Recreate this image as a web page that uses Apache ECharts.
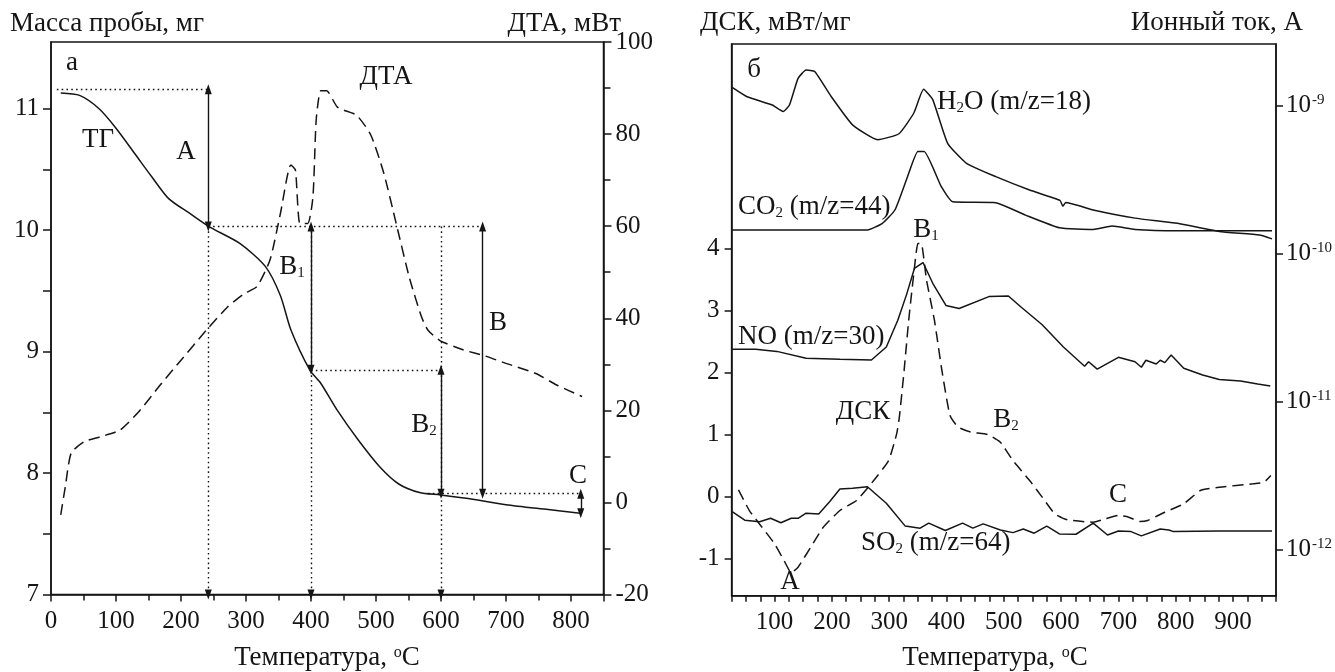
<!DOCTYPE html>
<html>
<head>
<meta charset="utf-8">
<script src="https://cdn.jsdelivr.net/npm/echarts@6/dist/echarts.min.js"></script>
<style>
html,body{margin:0;padding:0;background:#fff;}
#chart{width:1335px;height:672px;}
</style>
</head>
<body>
<div id="chart"></div>
<script>
// ---------- Panel а : TG / DTA ----------
const tgTemp = [15, 44, 74, 100, 129, 155, 181, 213, 243, 291, 330, 353, 369, 398, 415, 440, 473, 506, 535, 567, 599, 642, 700, 765, 814];
const tgMass = [11.13, 11.11, 11.0, 10.84, 10.63, 10.44, 10.26, 10.14, 10.03, 9.89, 9.70, 9.46, 9.18, 8.85, 8.74, 8.52, 8.27, 8.05, 7.91, 7.84, 7.82, 7.79, 7.74, 7.70, 7.67];

const dtaTemp = [15, 22, 31, 51, 77, 106, 135, 168, 200, 239, 272, 298, 317, 337, 353, 369, 376, 383, 395, 403, 408, 415, 424, 441, 470, 492, 512, 531, 551, 570, 580, 599, 635, 668, 700, 746, 778, 817];
const dtaValue = [-2.7, 3.4, 10.7, 13.2, 14.3, 15.7, 19.7, 25.5, 30.9, 37.4, 42.5, 45.4, 46.9, 52.7, 62.8, 73.3, 72.2, 60.6, 60.6, 66.4, 83.1, 89.4, 89.4, 85.8, 84.1, 79.8, 71.5, 60.6, 49.0, 40.3, 37.4, 35.1, 33.1, 31.8, 30.2, 28.0, 25.5, 23.0];

// mass levels used by the annotation arrows (mg) and their temperatures (°C)
const levelStart = 11.16, levelA = 10.03, levelB1 = 8.85, levelB = 7.83, levelEnd = 7.67;
const tempA = 242, tempB1 = 400, tempB2 = 600, tempB = 664, tempC = 815;

const massTicks = [7, 8, 9, 10, 11];
const massTickMarks = [7, 7.5, 8, 8.5, 9, 9.5, 10, 10.5, 11];
const dtaTicks = [-20, 0, 20, 40, 60, 80, 100];
const tempTicksA = [0, 100, 200, 300, 400, 500, 600, 700, 800];

// ---------- Panel б : DSC / ion currents (log10 of current, A) ----------
const h2oTemp = [26, 52, 96, 115, 126, 141, 155, 170, 199, 236, 280, 317, 343, 360, 376, 402, 435, 486, 545, 598, 603, 608, 656, 729, 803, 876, 946, 968];
const h2oLog = [-8.877, -8.94, -8.996, -9.04, -8.996, -8.816, -8.76, -8.77, -8.94, -9.13, -9.23, -9.19, -9.05, -8.89, -8.96, -9.255, -9.39, -9.48, -9.57, -9.64, -9.68, -9.655, -9.705, -9.76, -9.795, -9.85, -9.874, -9.90];

const co2Temp = [26, 262, 288, 310, 332, 350, 361, 391, 411, 486, 538, 597, 656, 689, 729, 803, 968];
const co2Log = [-9.84, -9.84, -9.795, -9.705, -9.48, -9.31, -9.31, -9.548, -9.65, -9.656, -9.74, -9.825, -9.836, -9.813, -9.836, -9.845, -9.845];

const noTemp = [26, 67, 104, 155, 214, 269, 295, 315, 330, 344, 359, 376, 399, 422, 474, 508, 530, 567, 604, 641, 648, 663, 700, 729, 740, 748, 766, 773, 781, 792, 814, 847, 876, 913, 943, 965];
const noLog = [-10.646, -10.646, -10.66, -10.707, -10.713, -10.718, -10.63, -10.45, -10.28, -10.10, -10.06, -10.2, -10.35, -10.37, -10.29, -10.286, -10.36, -10.48, -10.63, -10.76, -10.73, -10.78, -10.70, -10.73, -10.767, -10.72, -10.745, -10.72, -10.736, -10.684, -10.774, -10.82, -10.85, -10.86, -10.88, -10.894];

const so2Temp = [26, 48, 74, 93, 111, 129, 141, 155, 177, 196, 214, 236, 262, 295, 328, 354, 369, 398, 428, 446, 464, 494, 516, 534, 553, 575, 597, 626, 656, 681, 700, 722, 740, 773, 788, 796, 876, 968];
const so2Log = [-11.742, -11.80, -11.81, -11.787, -11.817, -11.787, -11.787, -11.753, -11.758, -11.675, -11.59, -11.584, -11.574, -11.686, -11.84, -11.854, -11.82, -11.87, -11.82, -11.854, -11.825, -11.866, -11.884, -11.86, -11.888, -11.84, -11.893, -11.895, -11.82, -11.90, -11.873, -11.877, -11.906, -11.86, -11.866, -11.877, -11.873, -11.873];

const dscTemp = [37, 56, 78, 100, 118, 129, 141, 163, 185, 214, 243, 273, 299, 313, 318, 326, 334, 343, 350, 356, 365, 379, 392, 406, 420, 442, 472, 494, 516, 545, 567, 589, 611, 656, 678, 700, 718, 737, 751, 781, 814, 843, 876, 935, 954, 966];
const dscValue = [0.108, -0.226, -0.495, -0.763, -1.06, -1.23, -1.14, -0.818, -0.495, -0.226, -0.065, 0.258, 0.58, 1.01, 1.3, 2.03, 2.84, 3.6, 4.08, 4.08, 3.5, 2.84, 2.03, 1.31, 1.12, 1.04, 1.0, 0.876, 0.58, 0.258, -0.01, -0.28, -0.376, -0.414, -0.36, -0.306, -0.333, -0.403, -0.387, -0.253, -0.118, 0.097, 0.15, 0.205, 0.23, 0.339];

const dscTicks = [-1, 0, 1, 2, 3, 4];
const ionTicks = [-12, -11, -10, -9];

// ---------- build ----------
const FONT = '"Liberation Serif", "Times New Roman", serif';
const INK = '#151515';
const TICK_FS = 25;
const TEXT_FS = 27;
const pairs = (xs, ys) => xs.map((x, i) => [x, ys[i]]);
const lineW = 1.5;

const axisLineStyle = { show: true, onZero: false, lineStyle: { color: INK, width: 1.5 } };
const labelStyle = { color: INK, fontFamily: FONT, fontSize: TICK_FS };
const supRich = { sup: { fontFamily: FONT, fontSize: 15, color: INK, verticalAlign: 'top', padding: [0, 0, 11, 1] } };

const chart = echarts.init(document.getElementById('chart'), null, { renderer: 'canvas' });

const dotted = { type: [1.6, 3.2], color: INK, width: 1.4 };
const solid = { type: 'solid', color: INK, width: 1.4 };
function seg(x1, y1, x2, y2, style, sym) {
  return [
    { coord: [x1, y1], symbol: sym[0], lineStyle: style },
    { coord: [x2, y2], symbol: sym[1] }
  ];
}
const both = ['triangle', 'triangle'];
const endOnly = ['none', 'triangle'];
const none = ['none', 'none'];

const arrowLines = [
  seg(9, levelStart, tempA, levelStart, dotted, none),
  seg(tempA, levelA, tempB, levelA, dotted, none),
  seg(tempB1, levelB1, tempB2, levelB1, dotted, none),
  seg(580, levelB, tempC, levelB, dotted, none),
  seg(tempA, levelA, tempA, 7, dotted, endOnly),
  seg(tempB1, levelA, tempB1, 7, dotted, endOnly),
  seg(tempB2, levelA, tempB2, 7, dotted, endOnly),
  seg(tempA, levelStart, tempA, levelA, solid, both),
  seg(tempB1, levelA, tempB1, levelB1, solid, both),
  seg(tempB, levelA, tempB, levelB, solid, both),
  seg(tempB2, levelB1, tempB2, levelB, solid, both),
  seg(tempC, levelB, tempC, levelEnd, solid, both)
];

function txt(x, y, text, align, size) {
  const fs = size || TEXT_FS;
  return {
    type: 'text', x: x, y: y, silent: true,
    style: {
      text: text, fill: INK, font: fs + 'px ' + FONT,
      align: align || 'center', verticalAlign: 'middle',
      rich: {
        sub: { fontFamily: FONT, fontSize: 15, fill: INK, verticalAlign: 'bottom', padding: [11, 0, 0, 0] },
        sup: { fontFamily: FONT, fontSize: 16, fill: INK, verticalAlign: 'top', padding: [0, 0, 11, 0] }
      }
    }
  };
}

const option = {
  animation: false,
  backgroundColor: '#ffffff',
  textStyle: { fontFamily: FONT },
  grid: [
    { left: 51, right: 731.5, top: 42, bottom: 77.5, show: true, borderColor: INK, borderWidth: 1.5, backgroundColor: 'transparent' },
    { left: 731.6, right: 57, top: 44, bottom: 76.3, show: true, borderColor: INK, borderWidth: 1.5, backgroundColor: 'transparent' }
  ],
  xAxis: [
    {
      gridIndex: 0, type: 'value', min: 0, max: 850, interval: 100,
      axisLine: axisLineStyle,
      axisTick: { show: true, length: 7, lineStyle: { color: INK, width: 1.5 } },
      minorTick: { show: true, splitNumber: 2, length: 6, lineStyle: { color: INK, width: 1.5 } },
      splitLine: { show: false },
      axisLabel: Object.assign({ margin: 14, formatter: v => tempTicksA.includes(v) ? String(v) : '' }, labelStyle)
    },
    {
      gridIndex: 1, type: 'value', min: 25, max: 975, interval: 25,
      axisLine: axisLineStyle,
      axisTick: { show: true, length: 6, lineStyle: { color: INK, width: 1.5 } },
      splitLine: { show: false },
      axisLabel: Object.assign({ margin: 14, formatter: v => (v % 100 === 0) ? String(v) : '' }, labelStyle)
    }
  ],
  yAxis: [
    {
      gridIndex: 0, type: 'value', position: 'left', min: 7, max: 11.55,
      axisLine: axisLineStyle,
      axisTick: { show: true, length: 8, customValues: massTickMarks, lineStyle: { color: INK, width: 1.5 } },
      splitLine: { show: false },
      axisLabel: Object.assign({ margin: 12, customValues: massTicks, formatter: v => String(v) }, labelStyle)
    },
    {
      gridIndex: 0, type: 'value', position: 'right', min: -20, max: 100, interval: 20,
      axisLine: axisLineStyle,
      axisTick: { show: true, length: 8, lineStyle: { color: INK, width: 1.5 } },
      minorTick: { show: true, splitNumber: 2, length: 7, lineStyle: { color: INK, width: 1.5 } },
      splitLine: { show: false },
      axisLabel: Object.assign({ margin: 12, formatter: v => dtaTicks.includes(v) ? String(v) : '' }, labelStyle)
    },
    {
      gridIndex: 1, type: 'value', position: 'left', min: -1.6, max: 7.3,
      axisLine: axisLineStyle,
      axisTick: { show: true, length: 7, customValues: dscTicks, lineStyle: { color: INK, width: 1.5 } },
      splitLine: { show: false },
      axisLabel: Object.assign({ margin: 12, customValues: dscTicks, formatter: v => String(v) }, labelStyle)
    },
    {
      gridIndex: 1, type: 'value', position: 'right', min: -12.31, max: -8.584,
      axisLine: axisLineStyle,
      axisTick: { show: true, length: 7, customValues: ionTicks, lineStyle: { color: INK, width: 1.5 } },
      splitLine: { show: false },
      axisLabel: Object.assign({ margin: 10, customValues: ionTicks, formatter: v => '10{sup|' + v + '}', rich: supRich }, labelStyle)
    }
  ],
  series: [
    {
      name: 'ТГ', type: 'line', xAxisIndex: 0, yAxisIndex: 0, data: pairs(tgTemp, tgMass),
      showSymbol: false, smooth: 0.25, lineStyle: { color: INK, width: lineW },
      markLine: { silent: true, animation: false, symbolSize: [7, 10], label: { show: false }, emphasis: { disabled: true }, data: arrowLines }
    },
    {
      name: 'ДТА', type: 'line', xAxisIndex: 0, yAxisIndex: 1, data: pairs(dtaTemp, dtaValue),
      showSymbol: false, smooth: 0.2, lineStyle: { color: INK, width: lineW, type: [11, 6] }
    },
    {
      name: 'H2O', type: 'line', xAxisIndex: 1, yAxisIndex: 3, data: pairs(h2oTemp, h2oLog),
      showSymbol: false, smooth: 0.15, lineStyle: { color: INK, width: lineW }
    },
    {
      name: 'CO2', type: 'line', xAxisIndex: 1, yAxisIndex: 3, data: pairs(co2Temp, co2Log),
      showSymbol: false, smooth: 0.15, lineStyle: { color: INK, width: lineW }
    },
    {
      name: 'NO', type: 'line', xAxisIndex: 1, yAxisIndex: 3, data: pairs(noTemp, noLog),
      showSymbol: false, lineStyle: { color: INK, width: lineW }
    },
    {
      name: 'SO2', type: 'line', xAxisIndex: 1, yAxisIndex: 3, data: pairs(so2Temp, so2Log),
      showSymbol: false, lineStyle: { color: INK, width: lineW }
    },
    {
      name: 'ДСК', type: 'line', xAxisIndex: 1, yAxisIndex: 2, data: pairs(dscTemp, dscValue),
      showSymbol: false, smooth: 0.15, lineStyle: { color: INK, width: lineW, type: [11, 6] }
    }
  ],
  graphic: [
    // axis titles
    txt(10, 24, 'Масса пробы, мг', 'left'),
    txt(621, 24, 'ДТА, мВт', 'right'),
    txt(700, 23, 'ДСК, мВт/мг', 'left'),
    txt(1303, 23, 'Ионный ток, А', 'right'),
    txt(327, 658, 'Температура, {sup|o}C', 'center'),
    txt(995, 658, 'Температура, {sup|o}C', 'center'),
    // panel letters
    txt(72, 63, 'а', 'center'),
    txt(754, 70, 'б', 'center'),
    // panel а annotations
    txt(98, 140, 'ТГ', 'center'),
    txt(186, 152, 'A', 'center'),
    txt(386, 77, 'ДТА', 'center'),
    txt(292, 267, 'B{sub|1}', 'center'),
    txt(498, 323, 'B', 'center'),
    txt(424, 425, 'B{sub|2}', 'center'),
    txt(578, 476, 'C', 'center'),
    // panel б annotations
    txt(937, 102, 'H{sub|2}O (m/z=18)', 'left'),
    txt(738, 207, 'CO{sub|2} (m/z=44)', 'left'),
    txt(926, 230, 'B{sub|1}', 'center'),
    txt(738, 337, 'NO (m/z=30)', 'left'),
    txt(863, 412, 'ДСК', 'center'),
    txt(1006, 420, 'B{sub|2}', 'center'),
    txt(1118, 495, 'C', 'center'),
    txt(861, 543, 'SO{sub|2} (m/z=64)', 'left'),
    txt(790, 582, 'A', 'center')
  ]
};

chart.setOption(option);
</script>
</body>
</html>
